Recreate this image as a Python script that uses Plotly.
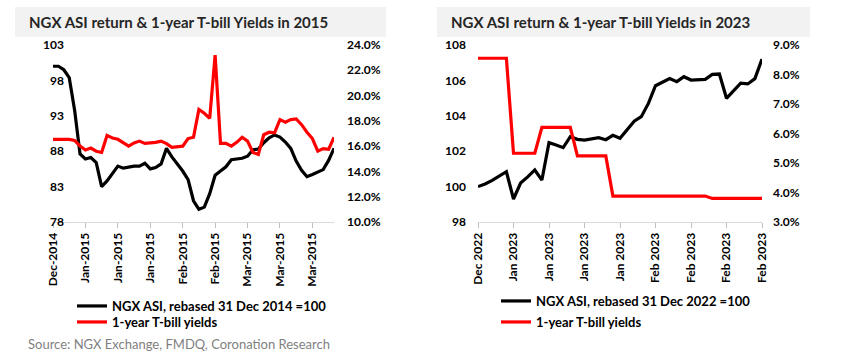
import plotly.graph_objects as go

W, H = 854, 359

# ---------------- Data: 2015 chart ----------------
ticks_2015 = ["Dec-2014", "Jan-2015", "Jan-2015", "Jan-2015", "Feb-2015",
              "Feb-2015", "Mar-2015", "Mar-2015", "Mar-2015"]
asi_2015 = [100.0, 100.0, 99.5, 98.4, 93.8, 87.6, 86.9, 87.1, 86.4, 83.0,
            83.8, 84.8, 85.9, 85.6, 85.8, 85.9, 85.9, 86.3, 85.5, 85.7,
            86.2, 88.4, 87.2, 86.2, 85.2, 84.0, 81.0, 79.8, 80.1, 82.0,
            84.6, 85.2, 85.8, 86.8, 86.9, 87.0, 87.3, 88.2, 88.3, 89.2,
            89.9, 90.3, 90.0, 89.3, 88.4, 86.6, 85.3, 84.4, 84.7, 85.0,
            85.4, 86.7, 88.4]
tbill_2015 = [16.54, 16.54, 16.54, 16.54, 16.45, 16.0, 15.7, 15.85, 15.6, 15.5,
              16.85, 16.65, 16.54, 16.3, 16.0, 16.25, 16.4, 16.22, 16.25, 16.3,
              16.4, 16.2, 15.9, 15.95, 16.0, 16.6, 16.7, 18.9, 18.6, 18.2,
              23.2, 16.22, 16.22, 16.0, 16.3, 16.7, 16.4, 15.5, 15.35, 16.9,
              17.1, 17.06, 18.1, 17.9, 18.1, 18.15, 17.7, 17.1, 16.6, 15.6,
              15.8, 15.75, 16.7]

# ---------------- Data: 2023 chart ----------------
ticks_2023 = ["Dec 2022", "Jan 2023", "Jan 2023", "Jan 2023", "Jan 2023",
              "Feb 2023", "Feb 2023", "Feb 2023", "Feb 2023"]
asi_2023 = [100.0, 100.15, 100.35, 100.6, 100.84, 99.3, 100.2, 100.55, 100.94, 100.37,
            102.48, 102.35, 102.2, 102.82, 102.67, 102.63, 102.68, 102.76, 102.65, 102.9,
            102.73, 103.2, 103.7, 103.95, 104.7, 105.7, 105.9, 106.1, 105.93, 106.21,
            106.02, 106.03, 106.06, 106.34, 106.36, 104.99, 105.4, 105.84, 105.8, 106.1,
            107.2]
tbill_2023 = [8.55, 8.55, 8.55, 8.55, 8.55, 5.33, 5.33, 5.33, 5.33, 6.21,
              6.21, 6.21, 6.21, 6.21, 5.24, 5.24, 5.24, 5.24, 5.24, 3.88,
              3.88, 3.88, 3.88, 3.88, 3.88, 3.88, 3.88, 3.88, 3.88, 3.88,
              3.88, 3.88, 3.88, 3.80, 3.80, 3.80, 3.80, 3.80, 3.80, 3.80,
              3.80]

x15 = list(range(len(asi_2015)))
x23 = list(range(len(asi_2023)))

FONT = "Lato"
TICKFONT = dict(family=FONT, size=12, color="#000000", weight=700)
LEGFONT = dict(family=FONT, size=13, color="#000000", weight=700)
BLACK = "#000000"
RED = "#ff0000"

def px(v):
    return v / W

def py(v):
    return 1 - v / H

fig = go.Figure()

fig.add_trace(go.Scatter(x=x15, y=asi_2015, mode="lines", xaxis="x", yaxis="y",
                         line=dict(color=BLACK, width=3.2),
                         name="NGX ASI, rebased 31 Dec 2014 =100", legend="legend"))
fig.add_trace(go.Scatter(x=x15, y=tbill_2015, mode="lines", xaxis="x", yaxis="y2",
                         line=dict(color=RED, width=3.2),
                         name="1-year T-bill yields", legend="legend3"))
fig.add_trace(go.Scatter(x=x23, y=asi_2023, mode="lines", xaxis="x2", yaxis="y3",
                         line=dict(color=BLACK, width=3.2),
                         name="NGX ASI, rebased 31 Dec 2022 =100", legend="legend2"))
fig.add_trace(go.Scatter(x=x23, y=tbill_2023, mode="lines", xaxis="x2", yaxis="y4",
                         line=dict(color=RED, width=3.2),
                         name="1-year T-bill yields", legend="legend4"))

ydom = [py(222), py(45)]

xcommon = dict(showgrid=False, zeroline=False, showline=True, linecolor="#d9d9d9",
               linewidth=1, ticks="outside", ticklen=5, tickcolor="#bfbfbf",
               tickangle=-90, tickfont=TICKFONT, automargin=False)
ycommon = dict(showgrid=False, zeroline=False, showline=False, ticks="",
               tickfont=TICKFONT, automargin=False)

def leg(x, ymid):
    return dict(x=px(x), y=py(ymid), xanchor="left", yanchor="middle",
                bgcolor="rgba(0,0,0,0)", borderwidth=0, font=LEGFONT)

fig.update_layout(
    width=W, height=H, autosize=False,
    margin=dict(l=0, r=0, t=0, b=0, pad=0, autoexpand=False),
    paper_bgcolor="white", plot_bgcolor="white",
    font=dict(family=FONT),
    xaxis=dict(xcommon, domain=[px(53), px(334)], range=[0, len(asi_2015) - 1],
               tickmode="array", tickvals=list(range(0, 49, 6)), ticktext=ticks_2015,
               anchor="y"),
    yaxis=dict(ycommon, domain=ydom, range=[78, 103], tickmode="array",
               tickvals=[78, 83, 88, 93, 98, 103], anchor="free", position=px(58),
               ticklabelstandoff=-6),
    yaxis2=dict(ycommon, overlaying="y", side="right", range=[10, 24], dtick=2,
                tickformat=".1f", ticksuffix="%", anchor="x", ticklabelstandoff=12),
    xaxis2=dict(xcommon, domain=[px(478), px(762)], range=[0, len(asi_2023) - 1],
                tickmode="array", tickvals=list(range(0, 41, 5)), ticktext=ticks_2023,
                anchor="y3"),
    yaxis3=dict(ycommon, domain=ydom, range=[98, 108], dtick=2, anchor="x2",
                ticklabelstandoff=11),
    yaxis4=dict(ycommon, overlaying="y3", side="right", range=[3, 9], dtick=1,
                tickformat=".1f", ticksuffix="%", anchor="x2", ticklabelstandoff=10),
    legend=leg(72, 306),
    legend3=leg(72, 322),
    legend2=leg(496, 301),
    legend4=leg(496, 322),
    showlegend=True,
)

# title boxes
for x0, x1 in [(15, 386), (437, 810)]:
    fig.add_shape(type="rect", xref="paper", yref="paper",
                  x0=px(x0), x1=px(x1), y0=py(37), y1=py(7),
                  fillcolor="#f2f2f2", line=dict(width=0), layer="below")

fig.add_annotation(text="NGX ASI return & 1-year T-bill Yields in 2015",
                   xref="paper", yref="paper", x=px(27), y=py(22),
                   xanchor="left", yanchor="middle", showarrow=False,
                   font=dict(family=FONT, size=15, color="#262626", weight=700))
fig.add_annotation(text="NGX ASI return & 1-year T-bill Yields in 2023",
                   xref="paper", yref="paper", x=px(449), y=py(22),
                   xanchor="left", yanchor="middle", showarrow=False,
                   font=dict(family=FONT, size=15, color="#262626", weight=700))
fig.add_annotation(text="Source: NGX Exchange, FMDQ, Coronation Research",
                   xref="paper", yref="paper", x=px(26), y=py(344),
                   xanchor="left", yanchor="middle", showarrow=False,
                   font=dict(family=FONT, size=13, color="#7f7f7f"))

fig.write_html("out.html", config={"displayModeBar": False},
               post_script="document.body.style.margin='0';"
                           "document.body.style.overflow='hidden';")
